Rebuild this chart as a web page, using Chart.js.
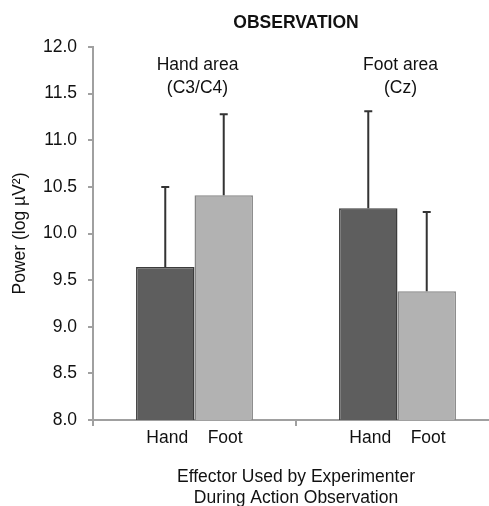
<!DOCTYPE html>
<html>
<head>
<meta charset="utf-8">
<script src="https://cdn.jsdelivr.net/npm/chart.js@4"></script>
<style>
  html, body { margin: 0; padding: 0; background: #fff; overflow: hidden; }
  #wrap { width: 489px; height: 506px; overflow: hidden; }
  #box { width: 500px; height: 506px; }
</style>
</head>
<body>
<div id="wrap"><div id="box"><canvas id="obsChart"></canvas></div></div>
<script>
const groupLabels = ["Hand    Foot", "Hand    Foot"];
const areaLabels = [["Hand area", "(C3/C4)"], ["Foot area", "(Cz)"]];
const seriesNames = ["Hand", "Foot"];
const handValues = [9.64, 10.27];
const footValues = [10.41, 9.38];
const handErrTop = [10.50, 11.31];
const footErrTop = [11.28, 10.23];
const yTicks = [8.0, 8.5, 9.0, 9.5, 10.0, 10.5, 11.0, 11.5, 12.0];

const FONT = "'Liberation Sans', Arial, sans-serif";
const FS = 17.5;

// upward error bars drawn at each bar's centre
const errorBars = {
  id: "errorBars",
  afterDatasetsDraw(chart) {
    const ctx = chart.ctx;
    const y = chart.scales.y;
    const tops = [handErrTop, footErrTop];
    ctx.save();
    ctx.strokeStyle = "#333";
    ctx.lineWidth = 2;
    chart.data.datasets.forEach((ds, i) => {
      chart.getDatasetMeta(i).data.forEach((bar, j) => {
        const yTop = y.getPixelForValue(tops[i][j]);
        ctx.beginPath();
        ctx.moveTo(bar.x, bar.y);
        ctx.lineTo(bar.x, yTop);
        ctx.moveTo(bar.x - 4, yTop);
        ctx.lineTo(bar.x + 4, yTop);
        ctx.stroke();
      });
    });
    ctx.restore();
  }
};

// "Hand area (C3/C4)" style labels above each group
const areaText = {
  id: "areaText",
  afterDraw(chart) {
    const ctx = chart.ctx;
    const x = chart.scales.x;
    const y = chart.scales.y;
    ctx.save();
    ctx.font = FS + "px " + FONT;
    ctx.fillStyle = "#111";
    ctx.textAlign = "center";
    ctx.textBaseline = "middle";
    areaLabels.forEach((lines, i) => {
      const cx = x.getPixelForValue(i) + 3;
      const cy = y.getPixelForValue(11.81);
      lines.forEach((t, k) => ctx.fillText(t, cx, cy + k * 23));
    });
    ctx.restore();
  }
};

new Chart(document.getElementById("obsChart"), {
  type: "bar",
  data: {
    labels: groupLabels,
    datasets: [
      {
        label: seriesNames[0],
        data: handValues,
        backgroundColor: "#5e5e5e",
        borderColor: "#3c3c3c",
        borderWidth: 1.5,
        borderSkipped: false
      },
      {
        label: seriesNames[1],
        data: footValues,
        backgroundColor: "#b2b2b2",
        borderColor: "#858585",
        borderWidth: 1.5,
        borderSkipped: false
      }
    ]
  },
  options: {
    responsive: true,
    maintainAspectRatio: false,
    animation: false,
    categoryPercentage: 0.576,
    barPercentage: 1,
    layout: { padding: { top: 1, right: 1, bottom: 0, left: 0 } },
    plugins: {
      legend: { display: false },
      tooltip: { enabled: false },
      title: {
        display: true,
        text: "OBSERVATION",
        fullSize: false,
        color: "#111",
        font: { family: FONT, size: FS, weight: "bold" },
        padding: { top: 12, bottom: 13 }
      }
    },
    scales: {
      x: {
        grid: {
          display: true,
          drawOnChartArea: false,
          drawTicks: true,
          tickLength: 6,
          color: "#a0a0a0",
          lineWidth: 2
        },
        border: { color: "#a0a0a0", width: 2 },
        ticks: {
          color: "#111",
          font: { family: FONT, size: FS },
          padding: 2
        },
        title: {
          display: true,
          text: ["Effector Used by Experimenter", "During Action Observation"],
          color: "#111",
          font: { family: FONT, size: FS, lineHeight: 1.2 },
          padding: { top: 0, bottom: -3 }
        },
        afterFit(scale) { scale.height = 86; }
      },
      y: {
        min: 8,
        max: 12,
        afterBuildTicks(scale) { scale.ticks = yTicks.map((v) => ({ value: v })); },
        grid: {
          display: true,
          drawOnChartArea: false,
          drawTicks: true,
          tickLength: 5,
          color: "#a0a0a0",
          lineWidth: 2
        },
        border: { color: "#a0a0a0", width: 2 },
        ticks: {
          color: "#111",
          font: { family: FONT, size: FS },
          padding: 11,
          callback: (v) => Number(v).toFixed(1)
        },
        title: {
          display: true,
          text: "Power (log µV²)",
          color: "#111",
          font: { family: FONT, size: FS },
          padding: { top: 10, bottom: 0 }
        },
        afterFit(scale) { scale.width = 93; }
      }
    }
  },
  plugins: [errorBars, areaText]
});
</script>
</body>
</html>
